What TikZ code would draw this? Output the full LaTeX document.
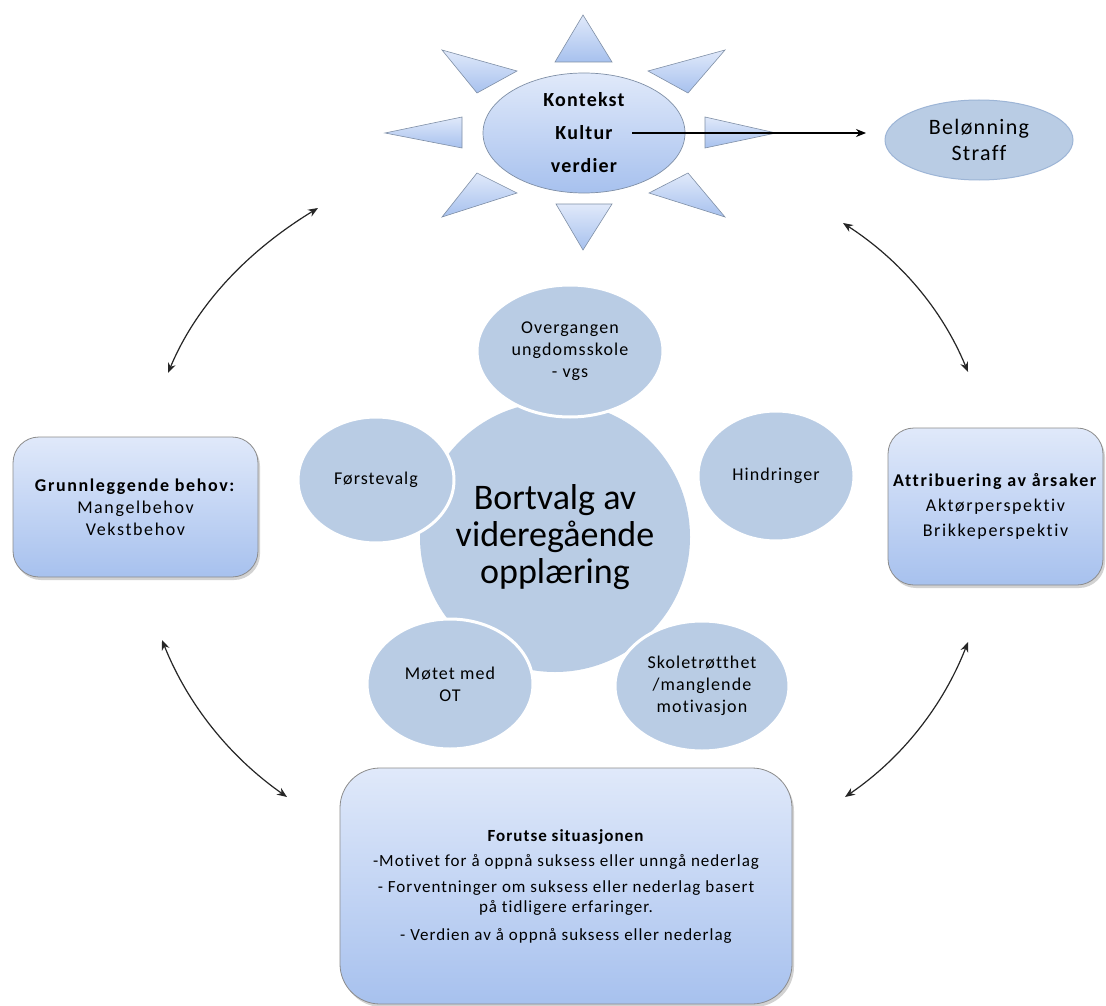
\documentclass[tikz,border=0pt]{standalone}
\usepackage{fontspec}
\setmainfont{Carlito}[Ligatures=NoCommon]
\newfontfamily\wide{Carlito}[LetterSpace=6,Ligatures=NoCommon]
\newfontfamily\wider{Carlito}[LetterSpace=9,Ligatures=NoCommon]
\usetikzlibrary{arrows.meta,shapes.geometric,shadows}
\definecolor{satblue}{HTML}{B9CCE4}
\definecolor{gradtop}{HTML}{E0E9FA}
\definecolor{gradbot}{HTML}{A7C1EE}
\definecolor{sunline}{HTML}{7F8FA6}
\definecolor{boxline}{HTML}{8C8C8C}
\definecolor{belline}{HTML}{9DB5D6}
\tikzset{
  sat/.style={ellipse, fill=satblue, draw=white, line width=3pt, inner sep=0pt, align=center,
    font=\wide\fontsize{18}{22}\selectfont},
  sunray/.style={draw=sunline, line width=0.6pt, top color=gradtop, bottom color=gradbot},
  roundbox/.style={rounded corners=26pt, draw=boxline, line width=0.8pt, top color=gradtop, bottom color=gradbot,
    drop shadow={shadow xshift=2pt, shadow yshift=-3pt, opacity=0.35}, align=center, inner sep=0pt,
    font=\wider\fontsize{18}{22}\selectfont},
  dbl/.style={{Stealth[length=10pt,width=8pt]}-{Stealth[length=10pt,width=8pt]}, line width=1.2pt, draw=black!85},
}
\begin{document}
\begin{tikzpicture}[x=1pt,y=-1pt]
\useasboundingbox[fill=white] (0,0) rectangle (1106,1006);

% sun rays
\path[sunray] (583,15) -- (555,62) -- (612,62) -- cycle;
\path[sunray] (556,204) -- (612,204) -- (583,250) -- cycle;
\path[sunray] (385,133) -- (462,117) -- (462,148) -- cycle;
\path[sunray] (705,117) -- (705,148) -- (776,133) -- cycle;
\path[sunray] (442,50) -- (517,71) -- (477,93) -- cycle;
\path[sunray] (725,50) -- (648,71) -- (688,93) -- cycle;
\path[sunray] (477,173) -- (517,193) -- (442,217) -- cycle;
\path[sunray] (688,173) -- (649,193) -- (725,217) -- cycle;

\node[ellipse, minimum width=202, minimum height=120, draw=sunline, line width=0.7pt,
  top color=gradtop, bottom color=gradbot, align=center, inner sep=0pt,
  font=\wide\bfseries\fontsize{20}{33}\selectfont] (sun) at (584,133) {Kontekst\\Kultur\\verdier};

\node[ellipse, minimum width=188, minimum height=80, fill=satblue, draw=belline, line width=1pt,
  align=center, inner sep=0pt, font=\wide\fontsize{22}{26}\selectfont] (bel) at (979,140) {Belønning\\Straff};

\coordinate (kstart) at (632,133);
\coordinate (kend) at (866,133);
\draw[-{Stealth[length=10pt,width=8pt]}, line width=1.2pt] (kstart) -- (kend);

% centre
\node[circle, minimum size=270, fill=satblue, inner sep=0pt, align=center,
  font=\fontsize{36}{37}\selectfont] (core) at (555,537) {Bortvalg av\\videregående\\opplæring};

\node[sat, minimum width=186, minimum height=132] (over) at (570,351) {Overgangen\\ungdomsskole\\- vgs};
\node[sat, minimum width=156, minimum height=126] (forst) at (376,480) {Førstevalg};
\node[sat, minimum width=156, minimum height=130] (hind) at (776,476) {Hindringer};
\node[sat, minimum width=166, minimum height=130] (mote) at (450,684) {Møtet med\\OT};
\node[sat, minimum width=174, minimum height=130] (skole) at (702,686) {Skoletrøtthet\\/manglende\\motivasjon};

% boxes
\node[roundbox, minimum width=245, minimum height=140] (grunn) at (135.5,507)
  {\textbf{Grunnleggende behov:}\\Mangelbehov\\Vekstbehov};
\node[roundbox, minimum width=215, minimum height=157] (attr) at (995.5,506.5)
  {\textbf{Attribuering av årsaker}\\[3pt]Aktørperspektiv\\[3pt]Brikkeperspektiv};
\node[roundbox, rounded corners=40pt, minimum width=452, minimum height=236, font=\wide\fontsize{17}{20}\selectfont] (forut) at (566,886)
  {\textbf{Forutse situasjonen}\\[5pt]-Motivet for å oppnå suksess eller unngå nederlag\\[6pt]- Forventninger om suksess eller nederlag basert\\på tidligere erfaringer.\\[8pt]- Verdien av å oppnå suksess eller nederlag};

% curved double arrows
\coordinate (tlA) at (168,373); \coordinate (tlB) at (318,208);
\coordinate (trA) at (843,223); \coordinate (trB) at (968,372);
\coordinate (blA) at (162,640); \coordinate (blB) at (287,797);
\coordinate (brA) at (968,642); \coordinate (brB) at (845,797);
\draw[dbl] (tlA) .. controls (196,306) and (246,252) .. (tlB);
\draw[dbl] (trA) .. controls (900,260) and (942,309) .. (trB);
\draw[dbl] (blA) .. controls (188,705) and (230,757) .. (blB);
\draw[dbl] (brA) .. controls (943,706) and (902,758) .. (brB);
\end{tikzpicture}
\end{document}
